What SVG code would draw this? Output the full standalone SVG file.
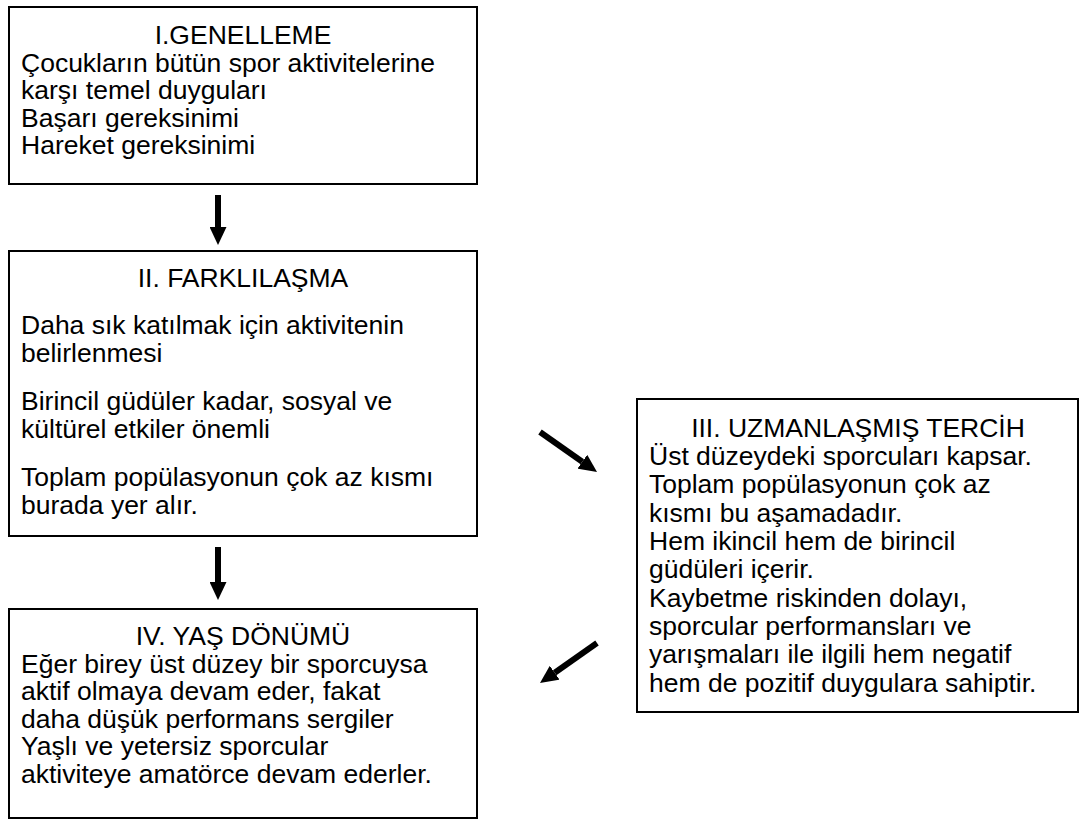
<svg xmlns="http://www.w3.org/2000/svg" width="1083" height="820" viewBox="0 0 1083 820">
<defs>
<style>
.box{fill:#fff;stroke:#000;stroke-width:2}
text{font-family:"Liberation Sans",Arial,sans-serif;font-size:26.5px;fill:#000}
.c{text-anchor:middle}
.arr{stroke:#000;stroke-width:6;fill:none}
</style>
<marker id="ah" viewBox="0 0 18 17" refX="0" refY="8.5" markerWidth="18" markerHeight="17" orient="auto" markerUnits="userSpaceOnUse">
<path d="M0,0 L18,8.5 L0,17 z" fill="#000"/>
</marker>
</defs>
<rect width="1083" height="820" fill="#fff"/>
<g id="node-1">
<rect class="box" x="9" y="7" width="468" height="177"/>
<text class="c" x="243" y="44">I.GENELLEME</text>
<text x="21" y="71.5">Çocukların bütün spor aktivitelerine</text>
<text x="21" y="99">karşı temel duyguları</text>
<text x="21" y="126.5">Başarı gereksinimi</text>
<text x="21" y="154">Hareket gereksinimi</text>
</g>
<g id="node-2">
<rect class="box" x="9" y="251" width="468" height="285"/>
<text class="c" x="243" y="287">II. FARKLILAŞMA</text>
<text x="21" y="334">Daha sık katılmak için aktivitenin</text>
<text x="21" y="362">belirlenmesi</text>
<text x="21" y="410">Birincil güdüler kadar, sosyal ve</text>
<text x="21" y="438">kültürel etkiler önemli</text>
<text x="21" y="486">Toplam popülasyonun çok az kısmı</text>
<text x="21" y="514">burada yer alır.</text>
</g>
<g id="node-3">
<rect class="box" x="637" y="399" width="441" height="313"/>
<text class="c" x="858" y="437">III. UZMANLAŞMIŞ TERCİH</text>
<text x="649" y="465">Üst düzeydeki sporcuları kapsar.</text>
<text x="649" y="493">Toplam popülasyonun çok az</text>
<text x="649" y="521.5">kısmı bu aşamadadır.</text>
<text x="649" y="550">Hem ikincil hem de birincil</text>
<text x="649" y="578">güdüleri içerir.</text>
<text x="649" y="606.5">Kaybetme riskinden dolayı,</text>
<text x="649" y="635">sporcular performansları ve</text>
<text x="649" y="663">yarışmaları ile ilgili hem negatif</text>
<text x="649" y="691.5">hem de pozitif duygulara sahiptir.</text>
</g>
<g id="node-4">
<rect class="box" x="9" y="609" width="468" height="209"/>
<text class="c" x="243" y="645">IV. YAŞ DÖNÜMÜ</text>
<text x="21" y="672.5">Eğer birey üst düzey bir sporcuysa</text>
<text x="21" y="700">aktif olmaya devam eder, fakat</text>
<text x="21" y="727.5">daha düşük performans sergiler</text>
<text x="21" y="755">Yaşlı ve yetersiz sporcular</text>
<text x="21" y="782.5">aktiviteye amatörce devam ederler.</text>
</g>
<g id="connectors">
<line class="arr" x1="218" y1="195" x2="218" y2="227" marker-end="url(#ah)"/>
<line class="arr" x1="218" y1="547" x2="218" y2="582" marker-end="url(#ah)"/>
<line class="arr" x1="540" y1="432" x2="582.3" y2="461.7" marker-end="url(#ah)"/>
<line class="arr" x1="597" y1="643" x2="554.7" y2="672.7" marker-end="url(#ah)"/>
</g>
</svg>
